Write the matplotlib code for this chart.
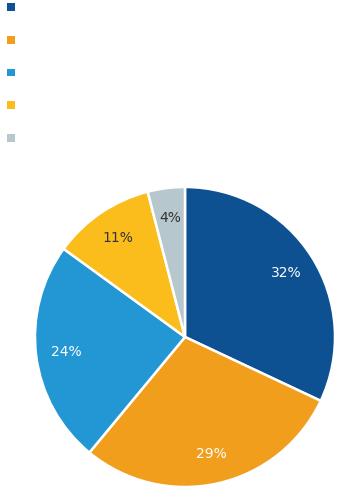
import matplotlib
matplotlib.use("Agg")
import matplotlib.pyplot as plt
from matplotlib.patches import Patch

categories = ["Category 1", "Category 2", "Category 3", "Category 4", "Category 5"]
values = [32, 29, 24, 11, 4]
colors = ["#0D5193", "#F19E1C", "#2397D3", "#FBBD1C", "#B7C7CE"]
label_colors = ["white", "white", "white", "#333333", "#333333"]

fig = plt.figure(figsize=(3.46, 4.97), dpi=100)
ax = fig.add_axes([35/346, 10/497, 300/346, 300/497])
wedges, texts, autotexts = ax.pie(
    values, colors=colors, startangle=90, counterclock=False,
    autopct=lambda p: f"{p:.0f}%", pctdistance=0.8,
    wedgeprops=dict(edgecolor="white", linewidth=1.8),
    textprops=dict(fontsize=10))
for t, c in zip(autotexts, label_colors):
    t.set_color(c)
ax.set_aspect("equal")
ax.set_xlim(-1, 1)
ax.set_ylim(-1, 1)

handles = [Patch(facecolor=c, edgecolor="none") for c in colors]
leg = fig.legend(handles, categories, loc="upper left", bbox_to_anchor=(0.012, 1.0),
                 frameon=False, fontsize=8, handlelength=0.7, handleheight=0.7,
                 labelspacing=2.05, borderpad=0.05, handletextpad=1.5, borderaxespad=0.2)
for t in leg.get_texts():
    t.set_color("white")

fig.savefig("out.png", dpi=100, facecolor="white")
